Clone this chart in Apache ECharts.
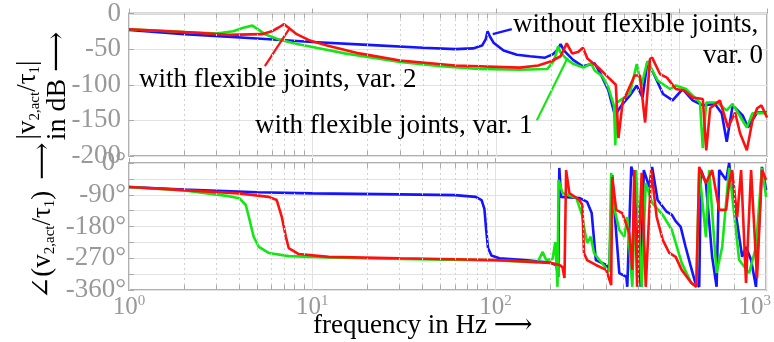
<!DOCTYPE html>
<html>
<head>
<meta charset="utf-8">
<title>Bode plot</title>
<script src="https://cdn.jsdelivr.net/npm/echarts@6/dist/echarts.min.js"></script>
</head>
<body style="margin:0">
<div id="container" style="width:774px;height:342px"></div>
<script>
// x axis ticks (Hz) and their exponent labels
var freqTickPos = [1, 10, 100, 2600];
var freqTickExp = ['0', '1', '2', '3'];
var minorFreqs = [2, 3, 4, 5, 6, 7, 8, 9, 20, 30, 40, 50, 60, 70, 80, 90,
  200, 300, 400, 500, 600, 700, 800, 900, 2000];
var phaseTickLabels = { '0': '0°', '-90': '-90°', '-180': '-180°', '-270': '-270°', '-360': '-360°' };

// magnitude |v2,act/tau1| in dB
var blueMagF = [1, 2, 5, 10, 20, 40, 60, 75, 84, 88, 90, 93, 97, 110, 130, 153, 185, 205, 218, 225, 235, 263, 297, 345, 369, 410, 445, 483, 537, 585, 630, 669, 725, 814, 918, 1040, 1180, 1340, 1560, 1700, 1810, 1950, 2210, 2360, 2650, 3000];
var blueMag = [-23, -29, -35, -40, -44, -48, -50, -49, -45, -36, -25, -33, -41, -52, -58, -60, -62, -57, -50, -43, -52, -65, -74, -70, -83, -108, -143, -129, -115, -101, -118, -67, -85, -113, -122, -106, -122, -129, -127, -140, -180, -129, -143, -160, -139, -139];

var greenMagF = [1, 2, 3, 3.7, 4.2, 4.7, 5.1, 5.5, 6.5, 8, 10, 15, 20, 30, 50, 80, 135, 190, 205, 212, 218, 225, 245, 265, 300, 330, 345, 380, 410, 440, 447, 455, 500, 537, 585, 620, 669, 760, 888, 955, 1085, 1294, 1340, 1400, 1610, 1810, 1950, 2330, 2500, 3000];
var greenMag = [-22, -26, -28, -25, -20, -17, -23, -29, -36, -42, -47, -56, -61, -68, -74, -78, -79, -78, -68, -58, -46, -55, -65, -71, -76, -70, -80, -88, -104, -130, -185, -125, -118, -112, -71, -101, -67, -94, -106, -101, -106, -125, -189, -125, -125, -136, -127, -160, -140, -140];

var redMagF = [1, 2, 3.5, 5.3, 6, 6.5, 7, 7.5, 8.2, 9.7, 12, 18, 30, 60, 135, 170, 200, 225, 243, 260, 280, 298, 315, 369, 418, 450, 465, 490, 570, 609, 650, 691, 710, 783, 855, 955, 1060, 1180, 1340, 1400, 1470, 1660, 1840, 2010, 2140, 2330, 2500, 2650, 2800, 3000];
var redMag = [-22, -26, -30, -29, -25, -20, -15, -21, -29, -38, -45, -56, -66, -73, -76, -73, -67, -60, -42, -56, -54, -48, -63, -78, -92, -100, -175, -125, -87, -87, -153, -64, -62, -85, -90, -106, -108, -118, -120, -192, -133, -122, -160, -139, -168, -192, -150, -133, -129, -146];

// phase angle(v2,act/tau1) in degrees
var bluePhF = [1, 2, 5, 10, 30, 60, 78, 84, 87, 89, 91, 95, 105, 150, 200, 215, 220, 223, 228, 287, 316, 335, 353, 402, 418, 434, 445, 474, 518, 524, 551, 585, 620, 645, 691, 716, 767, 859, 918, 962, 1025, 1091, 1158, 1232, 1294, 1322, 1408, 1522, 1610, 1663, 1815, 1885, 1957, 2085, 2220, 2330, 2483, 2640, 2846, 3000];
var bluePh = [-68, -75, -83, -86, -89, -91, -96, -105, -130, -190, -240, -262, -270, -276, -283, -290, -323, -14, -96, -99, -110, -142, -275, -289, -303, -34, -128, -312, -323, -351, -10, -57, -351, -20, -68, -11, -105, -138, -147, -165, -181, -238, -289, -340, -351, -20, -57, -266, -351, -20, -48, 0, -77, -170, -266, -238, -275, -351, -11, -77];

var greenPhF = [1, 2, 3.5, 4, 4.34, 4.51, 4.79, 5.11, 5.79, 7.44, 12.3, 30, 100, 170, 181, 189, 205, 212, 216, 218, 221, 232, 276, 298, 304, 316, 331, 345, 369, 418, 428, 445, 474, 505, 524, 558, 585, 628, 661, 716, 818, 918, 1038, 1172, 1248, 1294, 1408, 1466, 1610, 1727, 1885, 2137, 2422, 2640, 2846, 3000];
var greenPh = [-68, -78, -94, -100, -119, -153, -209, -238, -255, -264, -268, -272, -276, -281, -252, -275, -272, -224, -300, -351, -48, -85, -99, -150, -181, -227, -209, -255, -275, -309, -28, -128, -190, -209, -153, -351, -20, -351, -57, -113, -147, -190, -283, -340, -351, -20, -210, -20, -312, -238, -14, -275, -312, -238, -14, -96];

var redPhF = [1, 2, 4, 5.79, 6.4, 6.82, 7.18, 7.44, 8.44, 12.3, 30, 100, 200, 223, 232, 238, 243, 253, 287, 298, 304, 316, 353, 402, 428, 434, 456, 492, 537, 558, 572, 593, 628, 661, 708, 758, 818, 888, 962, 1038, 1172, 1248, 1294, 1408, 1522, 1663, 1815, 1885, 1957, 2085, 2190, 2330, 2483, 2675, 2846, 3000];
var redPh = [-68, -77, -86, -96, -105, -153, -209, -241, -258, -266, -270, -275, -283, -289, -295, -326, -20, -85, -105, -119, -255, -275, -289, -303, -346, -40, -133, -142, -198, -303, -20, -351, -28, -351, -20, -153, -218, -255, -266, -303, -340, -351, -11, -57, -20, -133, -133, -57, -20, -153, -20, -340, -20, -326, -20, -48];

// annotation pointer lines [Hz, dB]
var pointerBlue = [[96, -29], [122, -22]];
var pointerRed = [[5.5, -74], [7.45, -22]];
var pointerGreen = [[167, -150], [246, -62]];

var BLUE = '#1414ff', GREEN = '#14e614', RED = '#ff1010';
var SERIF = '"Liberation Serif", "DejaVu Serif", serif';

function pairs(xs, ys) {
  return xs.map(function (x, i) { return [x, ys[i]]; });
}

function curve(name, xs, ys, color, idx) {
  return {
    name: name, type: 'line', xAxisIndex: idx, yAxisIndex: idx,
    data: pairs(xs, ys), showSymbol: false, symbol: 'none',
    lineStyle: { color: color, width: 2.6 }, z: 3
  };
}

function pointer(pts, color) {
  return {
    type: 'line', xAxisIndex: 0, yAxisIndex: 0, data: pts, symbol: 'none',
    lineStyle: { color: color, width: 2.2 }, z: 4, silent: true
  };
}

// dotted minor grid lines plus short minor ticks on the top and bottom edges
function minorGrid(idx, ymin, ymax, tickLen) {
  var lines = minorFreqs.map(function (f) { return { xAxis: f }; });
  minorFreqs.forEach(function (f) {
    lines.push([{ coord: [f, ymin], lineStyle: { type: 'solid', color: '#aaa' } }, { coord: [f, ymin + tickLen] }]);
    lines.push([{ coord: [f, ymax], lineStyle: { type: 'solid', color: '#aaa' } }, { coord: [f, ymax - tickLen] }]);
  });
  return {
    type: 'line', xAxisIndex: idx, yAxisIndex: idx, data: [], silent: true,
    markLine: {
      silent: true, symbol: ['none', 'none'], label: { show: false },
      lineStyle: { color: '#d0d0d0', type: [2, 3], width: 1 },
      animation: false,
      data: lines
    }
  };
}

var gridLine = { show: true, lineStyle: { color: '#e2e2e2', width: 1 } };
var tick = { show: true, inside: true, length: 5, lineStyle: { color: '#aaa' } };
var labelRich = {
  b: { fontFamily: SERIF, fontSize: 25, color: '#999', lineHeight: 26 },
  s: { fontFamily: SERIF, fontSize: 15, color: '#999', verticalAlign: 'top', lineHeight: 26 }
};
var subRich = {
  m: { fontFamily: SERIF, fontSize: 27, fill: '#000', lineHeight: 30 },
  s: { fontFamily: SERIF, fontSize: 15, fill: '#000', verticalAlign: 'bottom', lineHeight: 30 }
};

var dom = document.getElementById('container');
var myChart = echarts.init(dom);
var option = {
  animation: false,
  backgroundColor: '#fff',
  grid: [
    { left: 129, top: 12, width: 638, height: 144, show: true, borderColor: '#b0b0b0', borderWidth: 2 },
    { left: 129, top: 163, width: 638, height: 127, show: true, borderColor: '#b0b0b0', borderWidth: 2 }
  ],
  xAxis: [
    { type: 'log', logBase: 10, min: 1, max: 3000, gridIndex: 0,
      axisLine: { show: false }, axisTick: tick, axisLabel: { show: false },
      splitLine: gridLine },
    { type: 'log', logBase: 10, min: 1, max: 3000, gridIndex: 1,
      axisLine: { show: false }, axisTick: tick, splitLine: gridLine,
      axisLabel: {
        show: true, margin: 4, customValues: freqTickPos,
        formatter: function (v) {
          var k = 0;
          for (var i = 0; i < freqTickPos.length; i++) {
            if (Math.abs(Math.log10(v) - Math.log10(freqTickPos[i])) < 0.05) k = i;
          }
          return '{b|10}{s|' + freqTickExp[k] + '}';
        },
        rich: labelRich
      } }
  ],
  yAxis: [
    { type: 'value', min: -200, max: 0, interval: 50, gridIndex: 0,
      axisLine: { show: false }, axisTick: tick, splitLine: gridLine,
      axisLabel: { color: '#999', fontFamily: SERIF, fontSize: 27, margin: 8 } },
    { type: 'value', min: -360, max: 0, interval: 45, gridIndex: 1,
      axisLine: { show: false }, axisTick: tick, splitLine: gridLine,
      axisLabel: { color: '#999', fontFamily: SERIF, fontSize: 27, margin: 3,
        formatter: function (v) { return phaseTickLabels[String(v)] || ''; } } }
  ],
  series: [
    minorGrid(0, -200, 0, 7), minorGrid(1, -360, 0, 14),
    curve('without flexible joints, var. 0', blueMagF, blueMag, BLUE, 0),
    curve('with flexible joints, var. 1', greenMagF, greenMag, GREEN, 0),
    curve('with flexible joints, var. 2', redMagF, redMag, RED, 0),
    curve('var. 0 phase', bluePhF, bluePh, BLUE, 1),
    curve('var. 1 phase', greenPhF, greenPh, GREEN, 1),
    curve('var. 2 phase', redPhF, redPh, RED, 1),
    pointer(pointerBlue, BLUE), pointer(pointerRed, RED), pointer(pointerGreen, GREEN)
  ],
  graphic: [
    { type: 'text', left: 513, top: 11, z: 10,
      style: { text: 'without flexible joints,', font: '27px ' + SERIF, fill: '#000' } },
    { type: 'text', right: 11, top: 42, z: 10,
      style: { text: 'var. 0', font: '27px ' + SERIF, fill: '#000' } },
    { type: 'text', left: 139, top: 66, z: 10,
      style: { text: 'with flexible joints, var. 2', font: '27px ' + SERIF, fill: '#000' } },
    { type: 'text', left: 255, top: 112, z: 10,
      style: { text: 'with flexible joints, var. 1', font: '27px ' + SERIF, fill: '#000' } },
    { type: 'text', left: 313, top: 312, z: 10,
      style: { text: 'frequency in Hz ⟶', font: '27px ' + SERIF, fill: '#000' } },
    { type: 'text', x: 28, y: 100, rotation: Math.PI / 2, z: 10,
      style: { text: '{m||v}{s|2,act}{m|/τ}{s|1}{m||}', align: 'center', verticalAlign: 'middle', rich: subRich } },
    { type: 'text', x: 58, y: 86, rotation: Math.PI / 2, z: 10,
      style: { text: 'in dB ⟶', font: '28px ' + SERIF, fill: '#000', align: 'center', verticalAlign: 'middle' } },
    { type: 'text', x: 43, y: 245, rotation: Math.PI / 2, z: 10,
      style: { text: '{m|∠(v}{s|2,act}{m|/τ}{s|1}{m|)}', align: 'center', verticalAlign: 'middle', rich: subRich } },
    { type: 'text', x: 43, y: 161, rotation: Math.PI / 2, z: 10,
      style: { text: '⟶', font: '26px ' + SERIF, fill: '#000', align: 'center', verticalAlign: 'middle' } }
  ]
};
myChart.setOption(option);
window.onresize = function () { myChart.resize(); };
</script>
</body>
</html>
